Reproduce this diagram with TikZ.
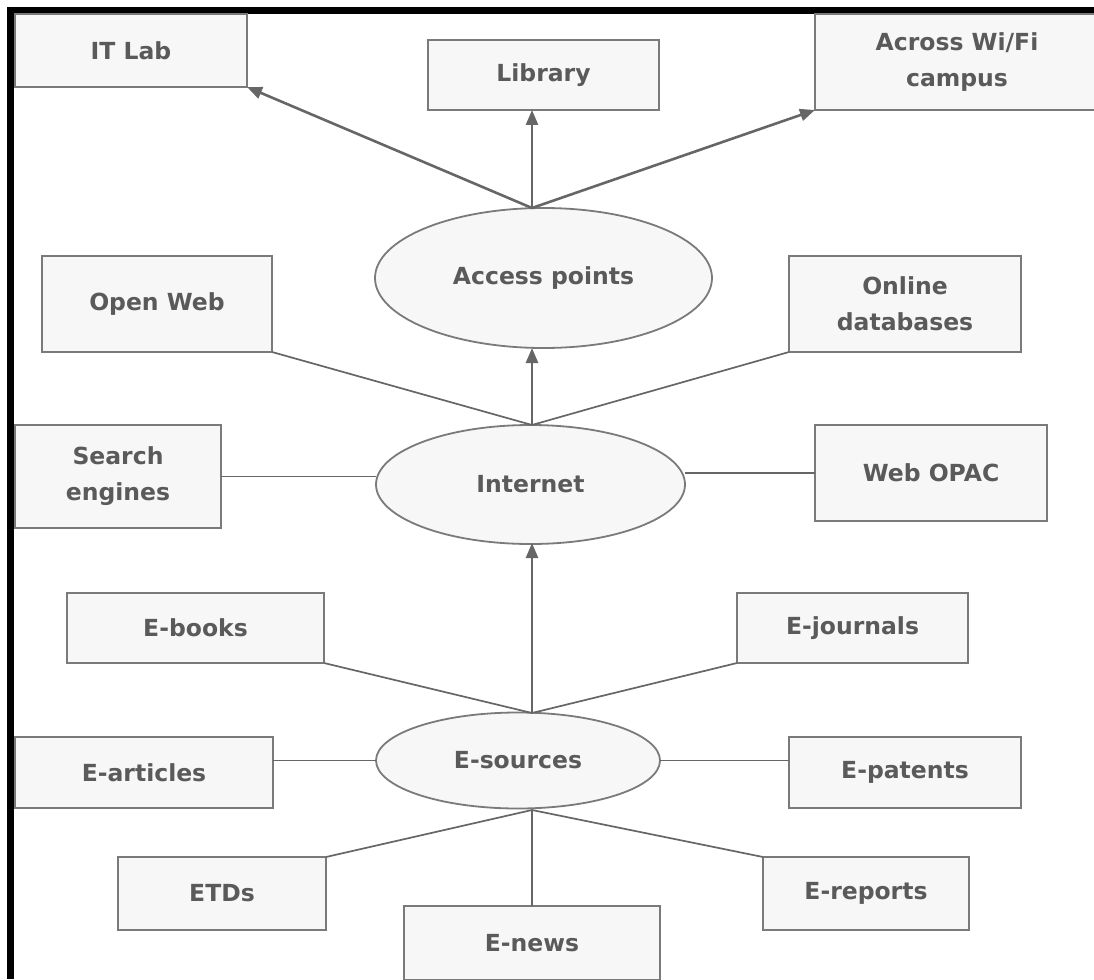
\documentclass[tikz,border=0pt]{standalone}
\usepackage{fontspec}
\setmainfont{DejaVu Sans}
\usepackage{tikz}
\usetikzlibrary{arrows.meta,positioning,shapes}
\usepackage{xcolor}
\definecolor{boxfill}{HTML}{F7F7F7}
\definecolor{boxline}{HTML}{7A7A7A}
\definecolor{linkgray}{HTML}{666666}
\definecolor{textgray}{HTML}{5A5A5A}

\begin{document}
\begin{tikzpicture}[x=1pt, y=-1pt,
    box/.style={draw=boxline, fill=boxfill, line width=1.8pt, text=textgray,
                align=center, inner sep=0pt, outer sep=0pt,
                font=\fontsize{23.5}{36}\selectfont\bfseries},
    hub/.style={box, ellipse},
    link/.style={draw=linkgray, line width=1.7pt},
    uplink/.style={draw=linkgray, line width=2.6pt, -{Triangle[length=15pt,width=12pt]}}]
\useasboundingbox (0,0) rectangle (1094,979);

% Frame on the left and top
\fill[black] (7,7) rectangle (14,979);
\fill[black] (7,7) rectangle (1094,14);

% Access points and where they lead
\node[box, minimum width=232pt, minimum height=73pt] (itlab) at (131,50.5) {IT Lab};
\node[box, minimum width=231pt, minimum height=70pt] (library) at (543.5,75) {Library};
\node[box, minimum width=284pt, minimum height=96pt] (wifi) at (957,62) {Across Wi/Fi\\campus};
\node[hub, minimum width=337pt, minimum height=140pt] (access) at (543.5,278) {Access points};

% Internet level
\node[box, minimum width=230pt, minimum height=96pt] (openweb) at (157,304) {Open Web};
\node[box, minimum width=232pt, minimum height=96pt] (onlinedb) at (905,304) {Online\\databases};
\node[box, minimum width=206pt, minimum height=103pt] (search) at (118,476.5) {Search\\engines};
\node[box, minimum width=232pt, minimum height=96pt] (webopac) at (931,473) {Web OPAC};
\node[hub, minimum width=309pt, minimum height=119pt] (internet) at (530.5,484.5) {Internet};

% E-sources level
\node[box, minimum width=257pt, minimum height=70pt] (ebooks) at (195.5,628) {E-books};
\node[box, minimum width=231pt, minimum height=70pt] (ejournals) at (852.5,628) {E-journals};
\node[box, minimum width=258pt, minimum height=71pt] (earticles) at (144,772.5) {E-articles};
\node[box, minimum width=232pt, minimum height=71pt] (epatents) at (905,772.5) {E-patents};
\node[hub, minimum width=284pt, minimum height=96pt] (esources) at (518,760.5) {E-sources};
\node[box, minimum width=208pt, minimum height=73pt] (etds) at (222,893.5) {ETDs};
\node[box, minimum width=256pt, minimum height=74pt] (enews) at (532,943) {E-news};
\node[box, minimum width=206pt, minimum height=73pt] (ereports) at (866,893.5) {E-reports};

% Meeting points of the links
\coordinate (acctop) at (532,208);
\coordinate (inttop) at (532,425);
\coordinate (intbot) at (532,543);
\coordinate (esrctop) at (532,713);
\coordinate (esrcbot) at (532,810);

% Links
\draw[uplink] (acctop) -- (itlab.south east);
\draw[uplink] (acctop) -- (acctop |- library.south);
\draw[uplink] (acctop) -- (wifi.south west);
\draw[uplink] (inttop) -- (inttop |- access.south);
\draw[link] (openweb.south east) -- (inttop);
\draw[link] (onlinedb.south west) -- (inttop);
\draw[link] (search.east) -- (search.east -| internet.west);
\draw[link] (webopac.west) -- (webopac.west -| internet.east);
\draw[uplink] (esrctop) -- (intbot);
\draw[link] (ebooks.south east) -- (esrctop);
\draw[link] (ejournals.south west) -- (esrctop);
\draw[link] (earticles.east |- esources.west) -- (esources.west);
\draw[link] (epatents.west |- esources.east) -- (esources.east);
\draw[link] (etds.north east) -- (esrcbot);
\draw[link] (enews.north) -- (esrcbot);
\draw[link] (ereports.north west) -- (esrcbot);

\end{tikzpicture}
\end{document}
